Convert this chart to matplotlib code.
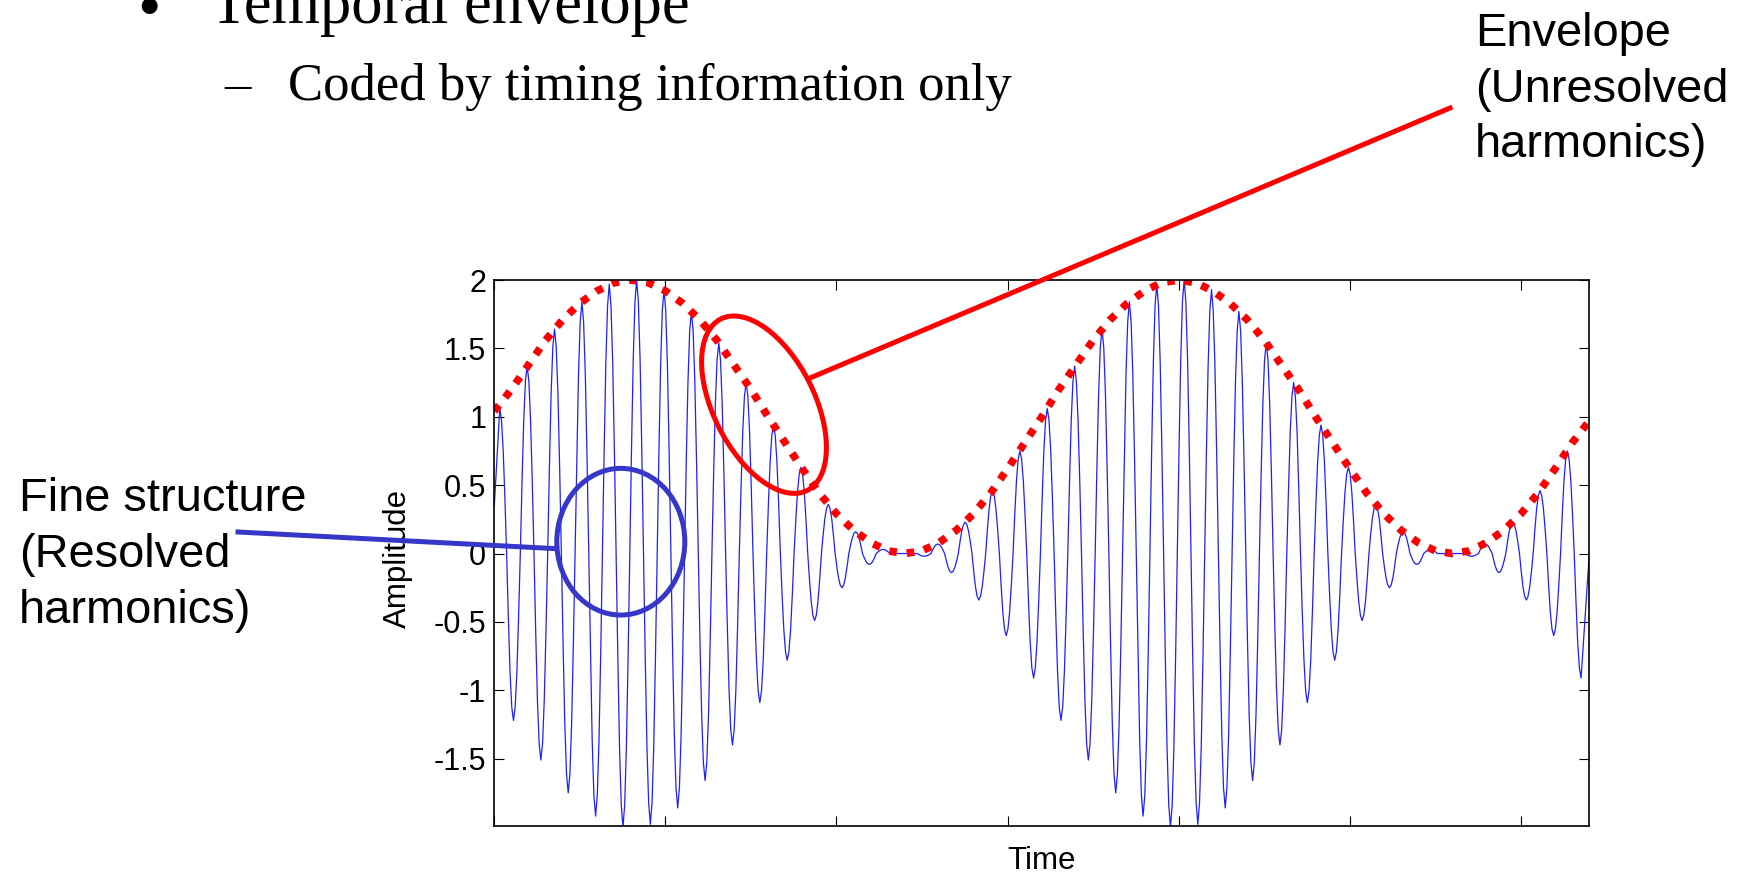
import numpy as np
import matplotlib
matplotlib.use("Agg")
import matplotlib.pyplot as plt
from matplotlib.patches import Ellipse
from matplotlib.lines import Line2D

plt.rcParams["font.family"] = ["Liberation Sans", "DejaVu Sans"]

# time axis in ms, extrema of the carrier
t_end = 32.0
carrier_period = 0.8
first_peak = 0.16
start_value = 0.35
end_value = 0.0

peak_values = [1.06, 1.37, 1.64, 1.84, 1.97, 2.00, 1.93, 1.77, 1.54, 1.25,
               0.94, 0.63, 0.36, 0.16, 0.03, 0.00, 0.07, 0.23, 0.46, 0.75,
               1.06, 1.37, 1.64, 1.84, 1.97, 2.00, 1.93, 1.77, 1.54, 1.25,
               0.94, 0.63, 0.36, 0.16, 0.03, 0.00, 0.07, 0.23, 0.46, 0.75]
trough_values = [-1.22, -1.51, -1.75, -1.92, -2.00, -1.98, -1.86, -1.66, -1.40, -1.09,
                 -0.78, -0.49, -0.25, -0.08, -0.00, -0.02, -0.14, -0.34, -0.60, -0.91,
                 -1.22, -1.51, -1.75, -1.92, -2.00, -1.98, -1.86, -1.66, -1.40, -1.09,
                 -0.78, -0.49, -0.25, -0.08, -0.00, -0.02, -0.14, -0.34, -0.60, -0.91]

# shape of a quarter cycle (extremum -> zero crossing), fraction of the extremum
quarter_shape = [1.0, 0.92, 0.71, 0.38, 0.0]

# envelope read every 0.5 ms
envelope_step = 0.5
envelope_values = [1.04, 1.20, 1.38, 1.56, 1.71, 1.83, 1.92, 1.98, 2.00, 1.98,
                   1.92, 1.83, 1.71, 1.56, 1.38, 1.20, 1.00, 0.81, 0.62, 0.44,
                   0.29, 0.17, 0.08, 0.02, 0.00, 0.02, 0.08, 0.17, 0.29, 0.44,
                   0.62, 0.81, 1.00, 1.20, 1.38, 1.56, 1.71, 1.83, 1.92, 1.98,
                   2.00, 1.98, 1.92, 1.83, 1.71, 1.56, 1.38, 1.20, 1.00, 0.81,
                   0.62, 0.44, 0.29, 0.17, 0.08, 0.02, 0.00, 0.02, 0.08, 0.17,
                   0.29, 0.44, 0.62, 0.81, 0.97]

y_ticks = [-1.5, -1, -0.5, 0, 0.5, 1, 1.5, 2]
y_tick_labels = ["-1.5", "-1", "-0.5", "0", "0.5", "1", "1.5", "2"]
x_ticks = [0, 5, 10, 15, 20, 25, 30]

# waveform: go through the extrema, each half cycle follows the quarter shape
extrema = []
for p, tr_ in zip(peak_values, trough_values):
    extrema += [p, tr_]
half = carrier_period / 2
nq = len(quarter_shape) - 1
step = half / (2 * nq)
sig_t = [0.0]
sig_y = [start_value]
for j in range(len(extrema) - 1):
    a, b = extrema[j], extrema[j + 1]
    t0 = first_peak + half * j
    vals = [a * f for f in quarter_shape[:-1]] + [0.0] + [b * f for f in quarter_shape[-2:0:-1]]
    for m, v in enumerate(vals):
        sig_t.append(t0 + step * m)
        sig_y.append(v)
sig_t.append(first_peak + half * (len(extrema) - 1))
sig_y.append(extrema[-1])
sig_t.append(t_end)
sig_y.append(end_value)
env_t = envelope_step * np.arange(len(envelope_values))

W, H = 1745, 873
fig = plt.figure(figsize=(W / 100, H / 100), dpi=100)
ax = fig.add_axes([494.3 / W, 47.3 / H, 1095 / W, 545.7 / H])

ax.plot(sig_t, sig_y, color="#1f1fff", lw=0.9)
ax.plot(env_t, envelope_values, color="red", lw=5.5,
        linestyle=(0, (1, 1.3)), dash_capstyle="butt")

ax.set_xlim(0, t_end)
ax.set_ylim(-1.99, 2)
ax.set_xticks(x_ticks)
ax.set_xticklabels([])
ax.set_yticks(y_ticks)
ax.set_yticklabels(y_tick_labels)
ax.tick_params(direction="in", length=7, width=0.8, top=True, right=True,
               labelsize=22, pad=5.8)
for s in ax.spines.values():
    s.set_linewidth(1.2)

ax.set_xlabel("Time", fontsize=22.5, va="baseline")
ax.xaxis.set_label_coords(0.5, -0.0793)
ax.set_ylabel("Amplitude", fontsize=22.5, va="center")
ax.yaxis.set_label_coords(-0.088, 0.49)


def inch(x, y):
    return x / 100, (H - y) / 100


tr = fig.dpi_scale_trans

# slide text
fig.text(*inch(149, 28), "\u2022", transform=tr, fontsize=48, family="Liberation Serif",
         ha="center", va="baseline")
fig.text(*inch(210, 23), "Temporal envelope", transform=tr, fontsize=45,
         family="Liberation Serif", va="baseline")
fig.text(*inch(224, 100), "\u2013", transform=tr, fontsize=38,
         family="Liberation Serif", va="baseline")
fig.text(*inch(288, 100), "Coded by timing information only", transform=tr,
         fontsize=38, family="Liberation Serif", va="baseline")

for i, line in enumerate(["Envelope", "(Unresolved", "harmonics)"]):
    fig.text(*inch(1475, 46 + 55.5 * i), line, transform=tr, fontsize=33.8, va="baseline")
for i, line in enumerate(["Fine structure", "(Resolved", "harmonics)"]):
    fig.text(*inch(19, 511 + 56 * i), line, transform=tr, fontsize=33.8, va="baseline")

# callouts
blue = "#3636c8"
fig.add_artist(Ellipse(inch(620.8, 541.7), 1.28, 1.467, transform=tr, fill=False,
                       ec=blue, lw=3.6, zorder=10))
x0, y0 = inch(238, 532)
x1, y1 = inch(556.5, 548.7)
fig.add_artist(Line2D([x0, x1], [y0, y1], transform=tr, color=blue, lw=3.6, zorder=10))

fig.add_artist(Ellipse(inch(764, 404.7), 1.92, 1.01, angle=-63.3, transform=tr,
                       fill=False, ec="red", lw=3.6, zorder=10))
x0, y0 = inch(810, 378)
x1, y1 = inch(1450, 108)
fig.add_artist(Line2D([x0, x1], [y0, y1], transform=tr, color="red", lw=3.6, zorder=10))

fig.savefig("out.png", dpi=100)
